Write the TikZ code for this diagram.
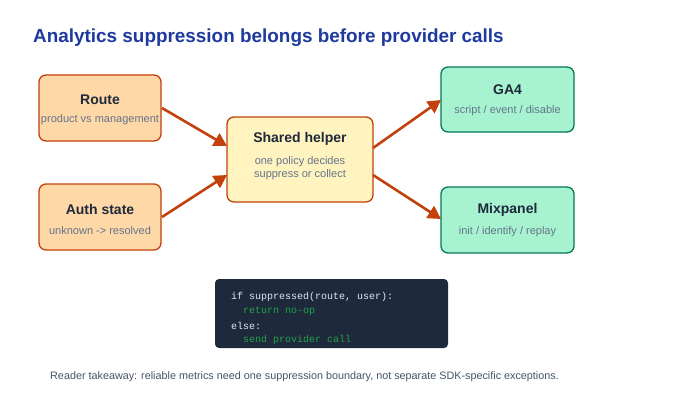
\documentclass[tikz,border=0pt]{standalone}
\usepackage{fontspec}
\setmainfont{Liberation Sans}
\setmonofont{Liberation Mono}
\usetikzlibrary{arrows.meta}
\definecolor{titleblue}{HTML}{1E3A9E}
\definecolor{orfill}{HTML}{FFD8A8}
\definecolor{ordraw}{HTML}{C2410C}
\definecolor{yefill}{HTML}{FFF3BF}
\definecolor{grfill}{HTML}{A7F3D0}
\definecolor{grdraw}{HTML}{047857}
\definecolor{darktext}{HTML}{1E293B}
\definecolor{subtext}{HTML}{64748B}
\definecolor{codebg}{HTML}{1E293B}
\definecolor{codetext}{HTML}{E2E8F0}
\definecolor{codegreen}{HTML}{22A34A}
\definecolor{foot}{HTML}{475569}
\tikzset{
  x=1pt,y=-1pt,
  box/.style={rounded corners=7pt,line width=1.3pt},
  orbox/.style={box,draw=ordraw,fill=orfill},
  yebox/.style={box,draw=ordraw,fill=yefill},
  grbox/.style={box,draw=grdraw,fill=grfill},
  btitle/.style={font=\fontsize{14}{16}\selectfont\bfseries,text=darktext,inner sep=0},
  bsub/.style={font=\fontsize{11}{13}\selectfont,text=subtext,inner sep=0,align=center},
  arr/.style={draw=ordraw,line width=2.6pt,-{Triangle[length=13pt,width=14pt]}},
  code/.style={font=\fontsize{10}{12}\selectfont\ttfamily,inner sep=0,anchor=west},
}
\begin{document}
\begin{tikzpicture}
\useasboundingbox[fill=white] (0,0) rectangle (680,412);
\node[anchor=west,inner sep=0,text=titleblue,font=\fontsize{18.9}{22}\selectfont\bfseries] (title) at (33,38) {Analytics suppression belongs before provider calls};

\draw[orbox] (39,75) rectangle (161,141);
\node[btitle] (routet) at (100,100) {Route};
\node[bsub] (routes) at (100,120) {product vs management};
\coordinate (routeout) at (162,108);

\draw[orbox] (39,184) rectangle (161,250);
\node[btitle] (autht) at (100,209) {Auth state};
\node[bsub] (auths) at (100,231) {unknown -> resolved};
\coordinate (authout) at (162,217);

\draw[yebox] (227,117) rectangle (373,202);
\node[btitle] (helpert) at (300,139) {Shared helper};
\node[bsub] (helpers1) at (300,162) {one policy decides};
\node[bsub] (helpers2) at (300,175) {suppress or collect};
\coordinate (helperin1) at (227,146);
\coordinate (helperin2) at (227,175);
\coordinate (helperout1) at (373,148);
\coordinate (helperout2) at (373,175);

\draw[grbox] (441,67) rectangle (574,132);
\node[btitle] (gat) at (507.5,90) {GA4};
\node[bsub] (gas) at (507.5,111) {script / event / disable};
\coordinate (gain) at (441,100);

\draw[grbox] (441,187) rectangle (574,253);
\node[btitle] (mixt) at (507.5,210) {Mixpanel};
\node[bsub] (mixs) at (507.5,232) {init / identify / replay};
\coordinate (mixin) at (441,219);

\draw[arr] (routeout) -- (helperin1);
\draw[arr] (authout) -- (helperin2);
\draw[arr] (helperout1) -- (gain);
\draw[arr] (helperout2) -- (mixin);

\fill[codebg,rounded corners=4pt] (215,279) rectangle (448,348);
\node[code,text=codetext] (c1) at (231,297) {if suppressed(route, user):};
\node[code,text=codegreen] (c2) at (243,311) {return no-op};
\node[code,text=codetext] (c3) at (231,326) {else:};
\node[code,text=codegreen] (c4) at (243,340) {send provider call};

\node[anchor=west,inner sep=0,text=foot,font=\fontsize{10.8}{13}\selectfont] (footer) at (50,377) {Reader takeaway: reliable metrics need one suppression boundary, not separate SDK-specific exceptions.};
\end{tikzpicture}
\end{document}
